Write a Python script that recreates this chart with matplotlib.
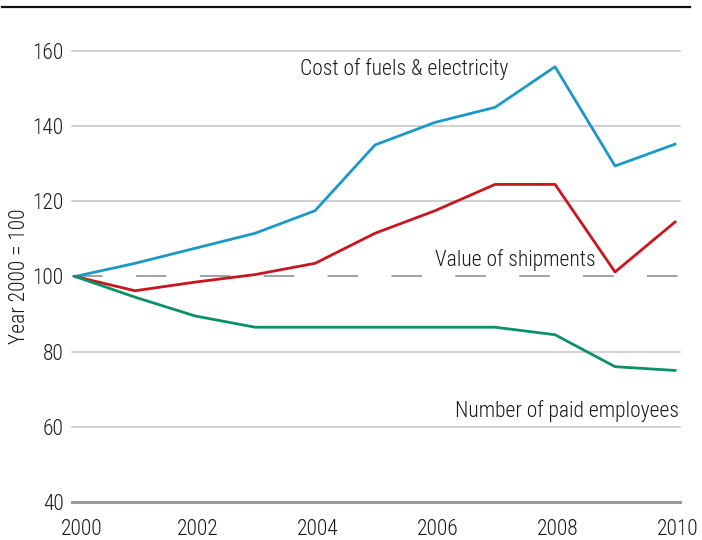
import matplotlib.pyplot as plt
from matplotlib.lines import Line2D
from matplotlib.transforms import ScaledTranslation
import matplotlib.font_manager as fm

installed = {f.name for f in fm.fontManager.ttflist}
families = [f for f in ['Roboto Condensed', 'Liberation Sans Narrow', 'Liberation Sans'] if f in installed]
plt.rcParams['font.family'] = families + ['DejaVu Sans']
plt.rcParams['font.weight'] = 'light'
plt.rcParams['lines.scale_dashes'] = False

years = list(range(2000, 2011))
fuels = [100, 103.5, 107.5, 111.5, 117.5, 135, 141, 145, 155.8, 129.4, 135.2]
shipments = [100, 96.2, 98.5, 100.5, 103.5, 111.5, 117.5, 124.5, 124.5, 101.2, 114.5]
employees = [100, 94.5, 89.5, 86.5, 86.5, 86.5, 86.5, 86.5, 84.5, 76, 75]

y_ticks = [40, 60, 80, 100, 120, 140, 160]
x_ticks = [2000, 2002, 2004, 2006, 2008, 2010]

FS = 15.5
TXT = '#1a1a1a'

fig = plt.figure(figsize=(7.02, 5.40), dpi=100)
ax = fig.add_axes([0.1026, 0.0704, 0.8661, 0.8352])
ax.set_xlim(1999.95, 2010.083)
ax.set_ylim(40, 160)

# horizontal rules
for v in y_ticks:
    if v == 40:
        ax.axhline(v, color='#9a9a9a', lw=2.2, zorder=1, clip_on=False)
    elif v == 100:
        ax.axhline(v, color='#9a9a9a', lw=1.3, dashes=(22, 24), zorder=1)
    else:
        ax.axhline(v, color='#c4c4c4', lw=1.1, zorder=1, clip_on=False)

ax.plot(years, fuels, color='#1b98c8', lw=2.0, zorder=3, clip_on=False)
ax.plot(years, shipments, color='#c9161e', lw=2.0, zorder=3, clip_on=False)
ax.plot(years, employees, color='#0a9168', lw=2.0, zorder=3, clip_on=False)

ax.text(2003.75, 155.3, 'Cost of fuels & electricity', fontsize=FS, color=TXT, va='center')
ax.text(2006.0, 104.3, 'Value of shipments', fontsize=FS, color=TXT, va='center')
ax.text(2006.33, 64.3, 'Number of paid employees', fontsize=FS, color=TXT, va='center')

for s in ax.spines.values():
    s.set_visible(False)
ax.set_yticks(y_ticks)
ax.set_xticks(x_ticks)
ax.tick_params(axis='y', length=0, pad=6, labelsize=FS, labelcolor=TXT)
ax.tick_params(axis='x', length=0, pad=12, labelsize=FS, labelcolor=TXT)

# nudge year labels slightly right, the first one a bit more
for i, lab in enumerate(ax.get_xticklabels()):
    dx = 7 if i == 0 else 3
    lab.set_transform(lab.get_transform() + ScaledTranslation(dx / 100, 0, fig.dpi_scale_trans))

fig.text(20 / 702, 1 - 276 / 540, 'Year 2000 = 100', rotation=90, fontsize=FS,
         color=TXT, ha='center', va='center')
fig.add_artist(Line2D([2 / 702, 690 / 702], [1 - 7 / 540, 1 - 7 / 540],
                      color='#111111', lw=1.6, transform=fig.transFigure))

fig.savefig('out.png', dpi=100)
